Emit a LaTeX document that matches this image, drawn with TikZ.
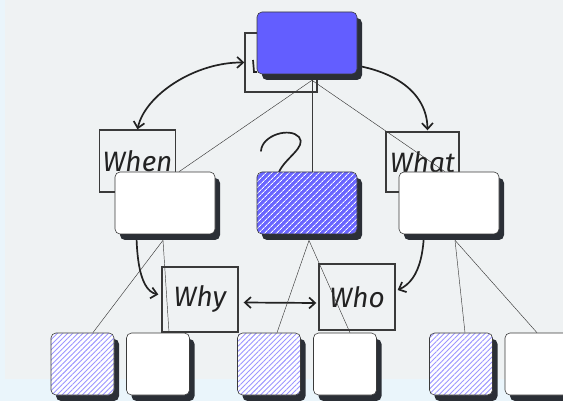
\documentclass[tikz,border=0pt]{standalone}
\usepackage{fontspec}
\newfontfamily\hand{Fira Sans}
\usetikzlibrary{shadows,patterns.meta,arrows.meta,calc}
\definecolor{photo}{HTML}{EFF2F3}
\definecolor{frame}{HTML}{EAF5FB}
\definecolor{topblue}{HTML}{635EFF}
\definecolor{hatchblue}{HTML}{6A66FF}
\definecolor{hatchline}{HTML}{9C96FF}
\definecolor{shadowc}{HTML}{2B2F36}
\definecolor{edge}{HTML}{3A3A3A}
\definecolor{ink}{HTML}{222222}
\pgfdeclarelayer{back}
\pgfdeclarelayer{lines}
\pgfsetlayers{back,lines,main}
\begin{document}
\begin{tikzpicture}[x=1pt,y=-1pt,
  card/.style={rounded corners=5pt, draw=edge, line width=0.6pt, inner sep=0pt,
     general shadow={fill=shadowc, shadow xshift=5pt, shadow yshift=-6pt}},
  bigcard/.style={card, minimum width=100pt, minimum height=62pt},
  smallcard/.style={card, minimum width=63pt, minimum height=62pt},
  solidblue/.style={fill=topblue},
  plain/.style={fill=white},
  darkhatch/.style={preaction={fill=hatchblue}, pattern={Lines[angle=45,distance=4pt,line width=0.9pt]}, pattern color=white},
  lighthatch/.style={preaction={fill=white}, pattern={Lines[angle=45,distance=3.6pt,line width=0.9pt]}, pattern color=hatchline},
  handbox/.style={draw=edge, line width=1.4pt, inner sep=0pt, font=\hand\itshape\fontsize{28}{28}\selectfont, text=ink},
  harrow/.style={draw=ink, line width=1.7pt},
  barb/.style={arrows={-Straight Barb[length=6pt,width=11pt]}},
  dbarb/.style={arrows={Straight Barb[length=6pt,width=11pt]-Straight Barb[length=6pt,width=11pt]}},
  thinline/.style={draw=edge, line width=0.45pt}
]
\clip (0,0) rectangle (563,401);
% cards
\node[bigcard, solidblue] (top) at (307,43) {};
\node[bigcard, plain] (m1) at (165,203) {};
\node[bigcard, darkhatch] (m2) at (307,203) {};
\node[bigcard, plain] (m3) at (449,203) {};
\node[smallcard, lighthatch] (b1) at (82.5,364) {};
\node[smallcard, plain] (b2) at (158,364) {};
\node[smallcard, lighthatch] (b3) at (269,364) {};
\node[smallcard, plain] (b4) at (345,364) {};
\node[smallcard, lighthatch] (b5) at (461,364) {};
\node[smallcard, plain] (b6) at (536.5,364) {};

\begin{pgfonlayer}{back}
\fill[frame] (0,0) rectangle (563,401);
\fill[photo] (5,0) rectangle (563,379);
\node[handbox, minimum width=72pt, minimum height=59pt] (tophand) at (281,62.5) {};
\node[handbox, minimum width=76pt, minimum height=62pt] (when) at (137.5,161) {When};
\node[handbox, minimum width=73pt, minimum height=60pt] (what) at (422.5,162) {What};
\node[handbox, minimum width=76pt, minimum height=65pt] (why) at (200,299.5) {Why};
\node[handbox, minimum width=76pt, minimum height=66pt] (who) at (357,297) {Who};
\draw[harrow] (253,60) -- (254,72) -- (257,72);
\draw[harrow, line cap=round] (261,151) .. controls (262,135) and (290,127) .. (299,137)
   .. controls (307,147) and (285,158) .. (279,172);
\draw[harrow, dbarb] (when.north) .. controls (145,95) and (195,62) .. (tophand.west);
\draw[harrow, barb] (tophand.east) .. controls (385,62) and (427,88) .. ($(what.north)+(5,-1)$);
\draw[harrow, barb] (when.south) .. controls (134,250) and (138,290) .. ($(why.west)+(-3,-5)$);
\draw[harrow, barb] (what.south) .. controls (428,250) and (420,280) .. ($(who.east)+(2,-7)$);
\draw[harrow, dbarb] ($(why.east)+(5,3)$) -- ($(who.west)+(-2,6)$);
\end{pgfonlayer}

\begin{pgfonlayer}{lines}
\coordinate (ts) at ($(top.south)+(5,6)$);
\draw[thinline] (ts) -- ($(m1.north)+(14,0)$);
\draw[thinline] (ts) -- ($(m2.north)+(5,0)$);
\draw[thinline] (ts) -- ($(m3.north)+(-4,0)$);
\coordinate (s1) at ($(m1.south)+(-2,6)$);
\draw[thinline] (s1) -- ($(b1.north)+(10.5,0)$);
\draw[thinline] (s1) -- ($(b2.north)+(11,0)$);
\coordinate (s2) at ($(m2.south)+(2,6)$);
\draw[thinline] (s2) -- ($(b3.north)+(8,0)$);
\draw[thinline] (s2) -- ($(b4.north)+(5,0)$);
\coordinate (s3) at ($(m3.south)+(6,6)$);
\draw[thinline] (s3) -- ($(b5.north)+(4,0)$);
\draw[thinline] (s3) -- ($(b6.north)+(0.5,0)$);
\end{pgfonlayer}
\end{tikzpicture}
\end{document}
